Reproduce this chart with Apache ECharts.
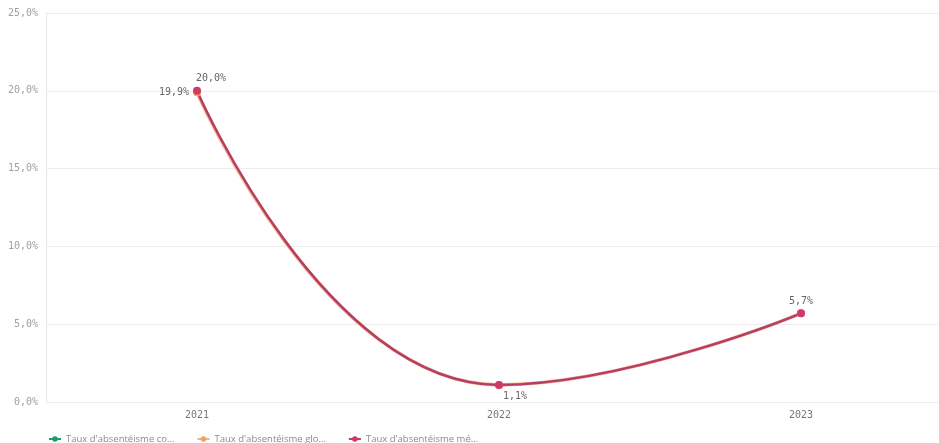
<!DOCTYPE html>
<html>
<head>
<meta charset="utf-8">
<script src="https://cdn.jsdelivr.net/npm/echarts@6/dist/echarts.min.js"></script>
<style>html,body{margin:0;padding:0;background:#fff;overflow:hidden;width:939px;height:443px;}#c{width:952px;height:443px;}</style>
</head>
<body>
<div id="c"></div>
<script>
const categories = ['2021', '2022', '2023'];
const seriesNames = ["Taux d'absentéisme co...", "Taux d'absentéisme glo...", "Taux d'absentéisme mé..."];
const valuesCo = [null, null, null];
const valuesGlo = [19.9, 1.1, 5.7];
const valuesMe = [20.0, 1.1, 5.7];
const yTicks = [0, 5, 10, 15, 20, 25];

const fmt = v => v.toFixed(1).replace('.', ',') + '%';
const mono = 'DejaVu Sans Mono';

const chart = echarts.init(document.getElementById('c'), null, {renderer: 'canvas'});
chart.setOption({
  animation: false,
  backgroundColor: '#fff',
  grid: {left: 46, right: 0, top: 13, bottom: 41, containLabel: false, outerBoundsMode: 'none'},
  legend: {
    left: 43, top: 429, itemGap: 22, itemWidth: 12, itemHeight: 7,
    textStyle: {fontFamily: 'Open Sans', fontSize: 9.5, color: '#8a8a8a'},
    data: seriesNames
  },
  xAxis: {
    type: 'category', data: categories, boundaryGap: true,
    axisLine: {show: false}, axisTick: {show: false},
    axisLabel: {fontFamily: mono, fontSize: 10, color: '#777', margin: 8}
  },
  yAxis: {
    type: 'value', min: yTicks[0], max: yTicks[yTicks.length - 1], interval: 5,
    axisLine: {show: true, lineStyle: {color: '#e6e6e6'}},
    axisTick: {show: false},
    splitLine: {lineStyle: {color: '#ededed'}},
    axisLabel: {fontFamily: mono, fontSize: 10, color: '#a0a0a0', margin: 8, formatter: fmt}
  },
  series: [
    {
      name: seriesNames[0], type: 'line', data: valuesCo, smooth: true,
      color: '#1f9b6e', symbol: 'circle', symbolSize: 8
    },
    {
      name: seriesNames[1], type: 'line', data: valuesGlo.map((v, i) => i === 0 ? {
        value: v, label: {show: true, position: 'left', distance: 4}
      } : v), smooth: true,
      color: '#f4a259', symbol: 'circle', symbolSize: 8, lineStyle: {width: 3.5, color: '#f2b48a'},
      label: {show: false, fontFamily: mono, fontSize: 10, color: '#666', formatter: p => fmt(p.value)}
    },
    {
      name: seriesNames[2], type: 'line', smooth: true,
      data: valuesMe.map((v, i) => {
        const pos = [{position: 'top', offset: [14, 1]}, {position: 'bottom', offset: [16, -1]}, {position: 'top', offset: [0, 1]}][i];
        return {value: v, label: Object.assign({show: true}, pos)};
      }),
      color: '#cf3a69', symbol: 'circle', symbolSize: 8,
      itemStyle: {color: '#d03a68'},
      lineStyle: {width: 2.5, color: '#b53d66'},
      label: {fontFamily: mono, fontSize: 10, color: '#666', distance: 4, formatter: p => fmt(p.value)}
    }
  ]
});
</script>
</body>
</html>
